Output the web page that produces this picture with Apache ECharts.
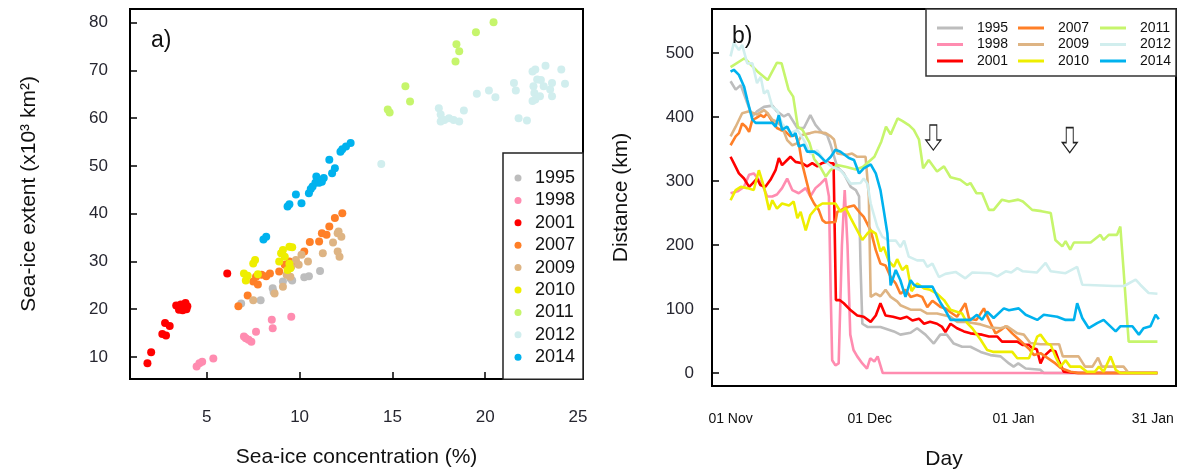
<!DOCTYPE html>
<html>
<head>
<meta charset="utf-8">
<script src="https://cdn.jsdelivr.net/npm/echarts@6/dist/echarts.min.js"></script>
<style>html,body{margin:0;padding:0;background:#fff}#c{width:1177px;height:475px}</style>
</head>
<body>
<div id="c"></div>
<script>
// ---------- categories / labels ----------
const years = ['1995','1998','2001','2007','2009','2010','2011','2012','2014'];
const colors = ['#bdbdbd','#ff8cb0','#ff0000','#ff7f27','#deb483','#eeee00','#c6f56c','#d1eeee','#00b2ee'];
const aXTicks = [5,10,15,20,25];
const aYTicks = [10,20,30,40,50,60,70,80];
const bYTicks = [0,100,200,300,400,500];
const bXTickDays = [0,30,61,91];
const bXTickLabels = ['01 Nov','01 Dec','01 Jan','31 Jan'];

// ---------- panel a: [concentration %, extent x10^3 km^2] ----------
const sc1995 = [[6.85,21.2],[7.9,21.9],[8.55,24.4],[8.6,23.6],[9.1,25.8],[9.5,26.5],[9.6,26.0],[10.25,26.7],[10.5,26.9],[11.1,28.0]];
const sc1998 = [[4.45,8.0],[4.6,8.7],[4.75,9.0],[5.35,9.7],[7.0,14.3],[7.1,13.9],[7.25,13.6],[7.4,13.2],[7.65,15.3],[8.5,17.8],[8.55,16.0],[9.55,18.4]];
const sc2001 = [[1.8,8.7],[2.0,11.0],[2.6,14.8],[2.8,14.5],[2.75,17.1],[3.0,16.5],[3.35,20.8],[3.5,20.5],[3.6,21.0],[3.7,19.8],[3.85,21.3],[3.9,20.0],[3.75,20.3],[3.95,20.6],[3.5,19.9],[6.1,27.5]];
const sc2007 = [[6.7,20.6],[7.2,22.9],[7.5,25.8],[7.65,26.8],[7.75,25.2],[7.95,27.2],[8.2,26.9],[8.4,27.5],[8.9,27.9],[9.2,29.3],[9.45,30.0],[9.8,29.8],[10.25,32.1],[10.55,34.1],[11.05,34.2],[11.2,35.9],[11.45,35.6],[11.6,37.3],[11.9,39.1],[12.3,40.1]];
const sc2009 = [[7.5,21.9],[8.65,23.3],[9.1,24.7],[9.3,27.2],[9.5,26.8],[9.55,28.9],[9.8,30.3],[9.95,29.3],[10.1,31.4],[10.45,30.0],[11.25,31.7],[11.8,34.0],[12.05,35.9],[12.1,36.3],[12.25,35.2],[12.05,32.1],[12.15,31.0]];
const sc2010 = [[7.0,27.5],[7.1,26.0],[7.2,27.0],[7.5,29.6],[7.6,30.3],[7.75,27.3],[8.9,30.0],[9.0,31.7],[9.1,32.4],[9.2,31.0],[9.35,28.2],[9.45,33.1],[9.45,29.5],[9.6,33.0],[9.5,28.6]];
const sc2011 = [[14.75,61.8],[14.85,61.2],[15.7,66.7],[15.95,63.5],[18.4,71.9],[18.45,75.5],[18.6,74.0],[19.5,78.0],[20.45,80.1]];
const sc2012 = [[14.4,50.4],[17.5,62.1],[17.6,60.8],[17.6,59.3],[17.8,59.6],[18.05,60.0],[18.3,59.6],[18.6,59.3],[18.85,61.6],[19.55,65.1],[20.2,65.8],[20.55,64.4],[21.55,67.4],[21.65,65.8],[21.8,60.0],[22.25,59.5],[22.55,69.8],[22.7,70.2],[22.8,68.1],[23.0,68.0],[23.25,71.0],[22.6,66.7],[22.65,65.3],[22.7,63.9],[22.55,63.6],[22.95,64.6],[23.15,66.7],[23.5,66.0],[23.6,67.4],[23.6,64.6],[24.1,70.2],[24.3,67.2]];
const sc2014 = [[8.05,34.6],[8.2,35.2],[9.35,41.5],[9.45,42.0],[9.8,44.0],[10.1,42.2],[10.5,44.3],[10.6,45.2],[10.7,45.7],[10.85,46.5],[10.9,47.8],[11.05,46.5],[11.2,46.7],[11.3,47.5],[11.6,51.3],[11.75,48.5],[11.9,49.5],[12.2,53.0],[12.3,53.5],[12.5,54.1],[12.75,54.8]];

// ---------- panel b: [days since 01 Nov, distance km] ----------
const ln1995 = [[0,456],[1.1,443],[2.2,450],[3.6,422],[4.7,401],[5.7,409],[7.2,416],[9,418],[10,409],[11.5,401],[12.5,405],[14.4,383],[15.8,383],[17.2,403],[18.3,388],[19.8,375],[20.8,372],[21.6,356],[23,322],[24.4,312],[25.9,291],[27,286],[27.7,276],[28,171],[28.4,77],[29.5,72],[32.3,72],[35.2,65],[36.6,60],[38.8,63],[40.2,70],[42,60],[43.8,46],[45.2,60],[46.6,60],[48.1,46],[49.9,41],[51.7,41],[53.9,33],[56,28],[58.2,26],[60,15],[61,10],[62,15],[63.6,7],[66.8,5],[67.5,0],[92,0]];
const ln1998 = [[0,281],[1.5,284],[2.9,291],[4,310],[5,312],[6.1,302],[7,292],[7.9,276],[9,276],[10,279],[11.1,289],[12.2,304],[13.3,286],[14.7,281],[16.2,289],[17.2,276],[18.3,289],[19.4,296],[20.5,304],[21.2,276],[21.6,119],[21.9,20],[22.6,12],[23.3,15],[24,200],[24.6,286],[25.2,200],[25.8,60],[26.5,36],[27.3,26],[28.4,15],[29.4,7],[30.1,23],[31,18],[31.7,26],[32.8,0],[92,0]];
const ln2001 = [[0,338],[0.7,328],[1.8,312],[2.9,304],[4,291],[4.7,296],[5.7,304],[6.4,294],[7.5,291],[8.6,302],[9.7,317],[10.4,336],[11.1,325],[12.2,333],[12.9,338],[14,330],[15.4,328],[16.5,323],[17.6,328],[18.7,323],[19.7,328],[20.5,330],[21.6,328],[22.2,328],[22.5,200],[22.7,114],[23.5,114],[24.4,109],[25.9,98],[27.3,90],[28.7,88],[30.2,80],[31.3,90],[32.3,109],[33.4,90],[35,88],[36.6,85],[38,88],[39.2,82],[40.6,85],[41.7,77],[43,80],[44.5,77],[45.6,72],[46.3,64],[47.4,77],[48.8,70],[50.3,65],[51.7,62],[54.2,60],[55.7,57],[57.5,57],[58.5,49],[61.8,49],[62.9,44],[64.3,44],[65,39],[66,37],[66.8,15],[67.5,26],[69,36],[70,34],[70.7,20],[71.8,2],[74.7,0],[92,0]];
const ln2007 = [[0,356],[1.1,370],[1.8,375],[2.5,390],[3.3,385],[4,377],[4.7,396],[5.4,398],[6.5,403],[7.2,400],[7.9,406],[9,393],[10,383],[10.8,380],[11.9,377],[12.9,370],[14,372],[14.7,359],[15.4,328],[16.5,296],[17.2,276],[18,265],[19,255],[19.8,239],[20.5,235],[22.6,236],[23,252],[24.4,257],[25.5,260],[26.6,262],[27.7,252],[28.7,244],[30.2,223],[31.3,192],[32.3,171],[33.4,168],[34.5,150],[35.6,140],[36.6,124],[37.7,130],[38.8,119],[40.2,122],[41.3,119],[42.4,103],[43.5,113],[45.3,103],[46.3,101],[47.4,95],[48.8,88],[50.6,109],[51.4,85],[53,83],[54.6,101],[55.7,83],[57.1,62],[58.2,67],[59.3,73],[60.7,62],[62.5,50],[64.3,38],[65.4,28],[66.8,31],[68.2,24],[70,15],[71.1,8],[73.3,2],[75,0],[92,0]];
const ln2009 = [[0,370],[1.1,385],[2.5,406],[4,409],[5.7,404],[7.2,411],[8,406],[9,396],[10,393],[11.1,385],[12.2,364],[13.3,356],[14.3,359],[15.4,372],[17.2,375],[18.3,377],[20.5,375],[21.6,370],[22.3,365],[23,343],[25.1,341],[26.2,343],[27.3,338],[29.1,338],[29.8,276],[30.2,119],[31.3,124],[32.3,120],[33.4,130],[34.5,119],[35.9,112],[36.6,106],[38.8,99],[40.9,99],[42.4,93],[44.5,93],[46.3,90],[47.4,88],[48.8,80],[50.6,80],[53.9,76],[56,71],[58.2,70],[59.6,73],[61.8,62],[63.2,60],[64.6,47],[66.8,45],[70.8,45],[71.6,26],[75,26],[76.4,10],[78,10],[79.2,24],[80,10],[84.7,10],[85.8,0],[92,0]];
const ln2010 = [[0,270],[1.1,286],[2.2,291],[3.6,289],[5,286],[6.1,317],[7.2,291],[8.3,255],[9,270],[10,257],[11.1,265],[12.6,262],[13.6,268],[14.4,242],[15.1,252],[16.2,223],[17.2,247],[18.7,260],[19.8,265],[22.6,265],[23.7,252],[24.8,258],[25.9,242],[27.3,223],[28.4,208],[29.5,218],[30.2,223],[31.3,218],[32.3,190],[33,197],[34.1,175],[35.2,166],[35.9,178],[37,161],[38,168],[39,128],[40.2,140],[41.7,132],[43,130],[44.5,124],[46,114],[47.4,99],[49.9,93],[51,78],[52.1,70],[53.9,52],[55.3,36],[56.7,33],[60.7,33],[61.8,23],[64.3,23],[65.3,41],[66.1,57],[66.8,60],[68.2,46],[69,44],[70,26],[71.1,10],[72.2,20],[73.2,10],[75.4,10],[76.8,2],[78.5,2],[79.4,10],[80.4,2],[81.9,26],[83,5],[84,0],[92,0]];
const ln2011 = [[0,478],[3,492],[6,470],[8,458],[10,485],[11,484],[12.5,443],[13.5,432],[14.5,385],[15.5,380],[17,360],[18,335],[19.5,320],[20.5,307],[21.5,317],[23,325],[25,322],[27,318],[28.5,322],[31,338],[32.5,362],[33.5,385],[34.5,373],[36,398],[37,394],[38.5,387],[39.5,380],[40.6,365],[41.5,320],[42.7,333],[44.5,315],[46,323],[47.4,306],[49.5,302],[51,294],[51.7,297],[53,281],[54.2,281],[55.7,255],[56.7,255],[58.5,271],[60,268],[62,271],[63,268],[65,255],[67,253],[69,250],[70,208],[71.5,198],[72.2,206],[73.2,193],[74,204],[77.6,204],[79.7,216],[80.4,208],[81.5,216],[83.3,216],[84,229],[84.7,161],[85.8,49],[92,49]];
const ln2012 = [[0,495],[0.7,516],[1.8,505],[2.5,513],[3.6,484],[4.7,484],[5.7,453],[6.5,463],[7.2,437],[8,442],[9,416],[10,411],[11.1,390],[12.9,375],[14.4,380],[15.8,364],[17.2,343],[18.7,348],[20.1,333],[21.9,322],[23.7,317],[24.8,307],[25.9,296],[28,297],[28.7,304],[29.5,296],[30.2,265],[31.6,229],[32.7,213],[34.1,207],[35.6,207],[36.6,197],[37.4,207],[38.4,182],[40.2,176],[41.6,176],[42.4,166],[43.5,171],[44.9,150],[46.3,155],[48.5,158],[50.6,148],[52.1,157],[56,156],[57.5,151],[59.3,159],[60.5,157],[61.8,164],[63,159],[66,157],[67.9,172],[69,159],[72.2,156],[74.7,166],[75.8,138],[82.6,136],[84.8,136],[87.3,146],[88.3,138],[90.1,125],[92,124]];
const ln2014 = [[0,471],[0.7,474],[1.8,466],[2.9,448],[3.6,427],[4.7,396],[5.4,391],[9,391],[9.7,385],[10.4,403],[11.1,380],[12.2,385],[13.3,370],[14,375],[14.7,354],[15.8,357],[16.5,346],[18,346],[19,341],[20.5,330],[21.6,338],[22.6,349],[23.7,346],[25.5,336],[26.6,333],[27.7,312],[28.7,320],[30.2,326],[31.3,312],[32.3,286],[33,255],[33.8,218],[34.1,182],[34.5,137],[35.6,161],[36.6,145],[37.7,119],[38.8,145],[39.5,138],[40.2,135],[43.5,135],[45.3,109],[46.3,98],[47.4,83],[51.7,83],[53.1,91],[54.2,83],[55.3,96],[56.7,86],[58.9,101],[60,98],[62.1,101],[63.6,91],[66.1,83],[67.5,91],[70.4,88],[72.2,83],[74,83],[74.7,109],[75.8,86],[77.2,70],[79,78],[80.4,83],[83,65],[84,73],[86.6,73],[88,60],[89,70],[90.5,73],[91.6,91],[92.3,84]];
// annotation arrows in panel b [day, km]
const arrowPts = [[43.7,368],[73.1,364]];

const scatterSets = [sc1995,sc1998,sc2001,sc2007,sc2009,sc2010,sc2011,sc2012,sc2014];
const lineSets = [ln1995,ln1998,ln2001,ln2007,ln2009,ln2010,ln2011,ln2012,ln2014];

const FONT = 'Liberation Sans, Arial, sans-serif';
const TXT = '#262630';

const series = [];
years.forEach((y,i)=>{
  series.push({
    name:y, type:'scatter', xAxisIndex:0, yAxisIndex:0,
    data:scatterSets[i], symbol:'circle', symbolSize:8,
    itemStyle:{color:colors[i], opacity:1}, silent:true
  });
});
years.forEach((y,i)=>{
  const s = {
    name:y, type:'line', xAxisIndex:1, yAxisIndex:1,
    data:lineSets[i], showSymbol:false, symbol:'none',
    lineStyle:{color:colors[i], width:2.6}, itemStyle:{color:colors[i]},
    silent:true, animation:false
  };
  if (y==='2011') {
    s.markPoint = {
      silent:true,
      symbol:'path://M4,0L11,0L11,15L15,15L7.5,25L0,15L4,15Z',
      symbolSize:[15,25],
      itemStyle:{color:'#ffffff', borderColor:'#222', borderWidth:1.2},
      label:{show:false},
      data: arrowPts.map(p=>({coord:p}))
    };
  }
  series.push(s);
});

const tickLbl = {color:TXT, fontFamily:FONT, fontSize:17};
const bXMap = {}; bXTickDays.forEach((d,i)=>bXMap[d]=bXTickLabels[i]);

const option = {
  animation:false,
  backgroundColor:'#fff',
  title:[
    {text:'a)', left:146, top:24, textStyle:{fontSize:23, fontWeight:'normal', color:'#111', fontFamily:FONT}},
    {text:'b)', left:727, top:20, textStyle:{fontSize:23, fontWeight:'normal', color:'#111', fontFamily:FONT}}
  ],
  grid:[
    {left:130, top:9, width:453, height:370, show:true, borderColor:'#000', borderWidth:2, backgroundColor:'transparent'},
    {left:712, top:9, width:464, height:377, show:true, borderColor:'#000', borderWidth:2, backgroundColor:'transparent'}
  ],
  xAxis:[
    {type:'value', gridIndex:0, min:0.86, max:25.27,
     axisLine:{show:false, onZero:false}, splitLine:{show:false},
     axisTick:{show:true, inside:true, length:7, lineStyle:{color:'#000', width:1.5}, customValues:[5,10,15,20]},
     axisLabel:Object.assign({customValues:aXTicks, margin:30}, tickLbl),
     name:'Sea-ice concentration (%)', nameLocation:'middle', nameGap:68,
     nameTextStyle:{fontSize:21, color:'#111', fontFamily:FONT}},
    {type:'value', gridIndex:1, min:-4, max:96,
     axisLine:{show:false, onZero:false}, splitLine:{show:false}, axisTick:{show:false},
     axisLabel:{customValues:bXTickDays, formatter:v=>bXMap[v]||'', margin:26, fontSize:14, color:'#111', fontFamily:FONT},
     name:'Day', nameLocation:'middle', nameGap:63,
     nameTextStyle:{fontSize:21, color:'#111', fontFamily:FONT}}
  ],
  yAxis:[
    {type:'value', gridIndex:0, min:5.39, max:82.87,
     axisLine:{show:false, onZero:false}, splitLine:{show:false},
     axisTick:{show:true, inside:true, length:7, lineStyle:{color:'#000', width:1.5}, customValues:aYTicks},
     axisLabel:Object.assign({customValues:aYTicks, margin:22}, tickLbl),
     name:'Sea-ice extent (x10³ km²)', nameLocation:'middle', nameGap:90, nameRotate:90,
     nameTextStyle:{fontSize:21, color:'#111', fontFamily:FONT}},
    {type:'value', gridIndex:1, min:-20.3, max:569,
     axisLine:{show:false, onZero:false}, splitLine:{show:false},
     axisTick:{show:true, inside:true, length:7, lineStyle:{color:'#000', width:1.5}, customValues:bYTicks},
     axisLabel:Object.assign({customValues:bYTicks, margin:18}, tickLbl),
     name:'Distance (km)', nameLocation:'middle', nameGap:80, nameRotate:90,
     nameTextStyle:{fontSize:21, color:'#111', fontFamily:FONT}}
  ],
  graphic:[
    {type:'rect', shape:{x:926, y:9, width:250, height:67}, style:{fill:'#fff', stroke:'#333', lineWidth:1.5}, z:5, silent:true}
  ],
  legend:[
    {data:years, orient:'vertical', left:503, top:153, icon:'circle', itemWidth:7, itemHeight:7,
     itemGap:4.4, padding:[16,8,13,11.5], borderColor:'#222', borderWidth:1.5, backgroundColor:'#fff',
     textStyle:{fontSize:18, lineHeight:18, color:'#111', fontFamily:FONT, padding:[0,0,0,8.5]},
     selectedMode:false, z:10},
    {data:years.slice(0,3), orient:'vertical', left:937, top:21, icon:'rect', itemWidth:26, itemHeight:3,
     itemGap:2.5, padding:0, textStyle:{fontSize:14, lineHeight:14, color:'#111', fontFamily:FONT, padding:[0,0,0,9]}, selectedMode:false, z:10},
    {data:years.slice(3,6), orient:'vertical', left:1018, top:21, icon:'rect', itemWidth:26, itemHeight:3,
     itemGap:2.5, padding:0, textStyle:{fontSize:14, lineHeight:14, color:'#111', fontFamily:FONT, padding:[0,0,0,9]}, selectedMode:false, z:10},
    {data:years.slice(6,9), orient:'vertical', left:1100, top:21, icon:'rect', itemWidth:26, itemHeight:3,
     itemGap:2.5, padding:0, textStyle:{fontSize:14, lineHeight:14, color:'#111', fontFamily:FONT, padding:[0,0,0,9]}, selectedMode:false, z:10}
  ],
  series:series
};

const chart = echarts.init(document.getElementById('c'), null, {renderer:'canvas'});
chart.setOption(option);
</script>
</body>
</html>
